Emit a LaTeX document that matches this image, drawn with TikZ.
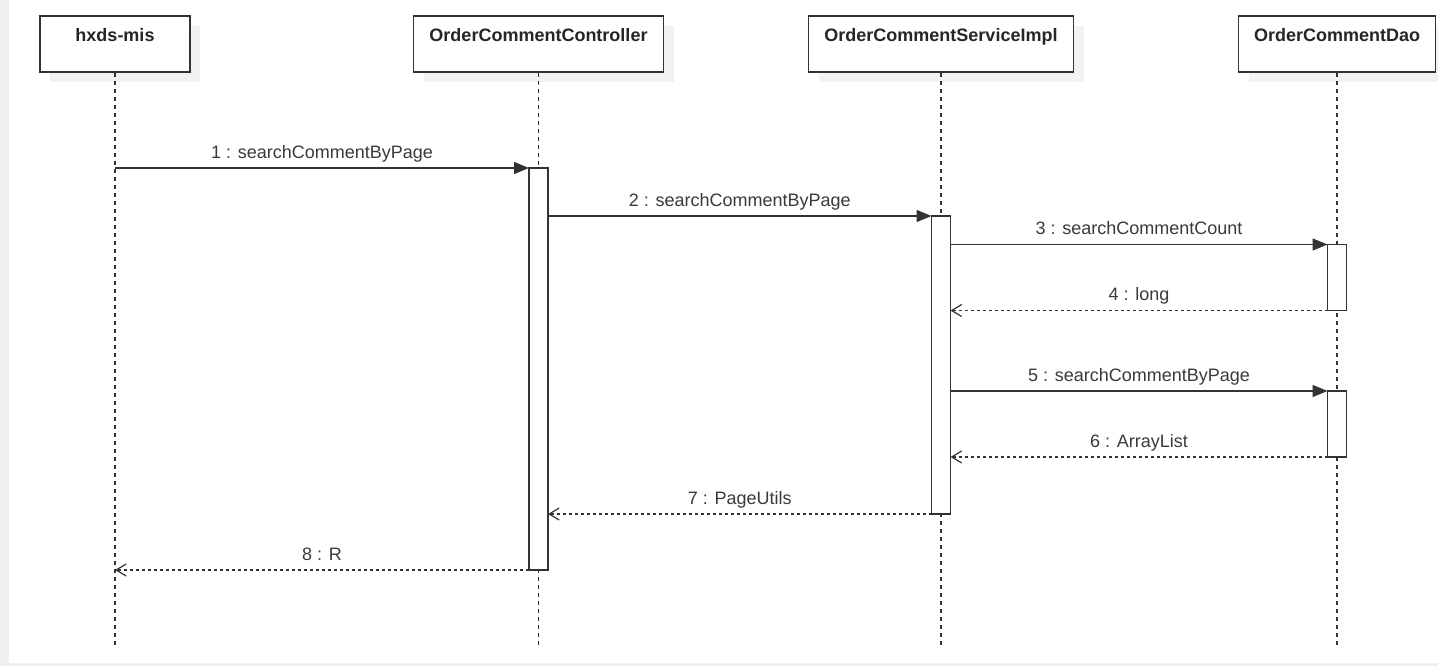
\documentclass[tikz,border=0pt]{standalone}
\usepackage{fontspec}
\setmainfont{Liberation Sans}
\usetikzlibrary{arrows.meta, shadows}
\definecolor{linegray}{HTML}{333333}
\definecolor{textgray}{HTML}{3A3A3A}
\definecolor{pagegray}{HTML}{F0F0F0}
\tikzset{actor/.style={draw=linegray, line width=1.4pt, fill=white, minimum height=56pt, inner sep=0pt, text height=13pt, text depth=17.6pt, font=\fontsize{18}{21}\selectfont\bfseries, text=black!85, drop shadow={shadow xshift=10pt, shadow yshift=-10pt, fill=black!5, opacity=1}},
	lifeline/.style={draw=linegray, line width=1.2pt, dash pattern=on 4pt off 4pt},
	act/.style={draw=linegray, line width=1.4pt, fill=white, minimum width=19pt, inner sep=0pt, outer sep=0pt, anchor=north},
	call/.style={draw=linegray, line width=1.4pt, -{Triangle[length=15pt,width=12pt]}},
	reply/.style={draw=linegray, line width=1.2pt, dash pattern=on 3pt off 3pt, -{Straight Barb[length=10pt,width=12pt]}},
	msg/.style={anchor=base, yshift=10pt, inner sep=0pt, text=textgray, font=\fontsize{18}{21}\selectfont}}

\begin{document}
\begin{tikzpicture}[x=1pt, y=-1pt]
	\useasboundingbox (0,0) rectangle (1438,666);
	\fill[pagegray] (0,0) rectangle (1438,666);
	\fill[white] (9,0) rectangle (1438,663);
	\node[actor, minimum width=150pt] (mis) at (115,44) {hxds-mis};
	\node[actor, minimum width=250pt] (ctrl) at (538.5,44) {OrderCommentController};
	\node[actor, minimum width=265pt] (svc) at (941,44) {OrderCommentServiceImpl};
	\node[actor, minimum width=197pt] (dao) at (1337,44) {OrderCommentDao};
	\coordinate (end) at (0,645);
	\foreach \n in {mis, ctrl, svc, dao}
		\draw[lifeline] (\n.south) -- (\n.south |- end);
	\node[act, minimum height=402pt] (ctrlact) at (538.5,168) {};
	\node[act, minimum height=298pt] (svcact) at (941,216) {};
	\node[act, minimum height=66pt] (daoact1) at (1337,244.5) {};
	\node[act, minimum height=66pt] (daoact2) at (1337,391) {};
	\path
		(mis |- ctrlact.north) edge[call] node[msg] {1 : searchCommentByPage} (ctrlact.north west)
		(ctrlact.east |- svcact.north) edge[call] node[msg] {2 : searchCommentByPage} (svcact.north west)
		(svcact.east |- daoact1.north) edge[call] node[msg] {3 : searchCommentCount} (daoact1.north west)
		(daoact1.south west) edge[reply] node[msg] {4 : long} (daoact1.south west -| svcact.east)
		(svcact.east |- daoact2.north) edge[call] node[msg] {5 : searchCommentByPage} (daoact2.north west)
		(daoact2.south west) edge[reply] node[msg] {6 : ArrayList} (daoact2.south west -| svcact.east)
		(svcact.south west) edge[reply] node[msg] {7 : PageUtils} (svcact.south west -| ctrlact.east)
		(ctrlact.south west) edge[reply] node[msg] {8 : R} (ctrlact.south west -| mis)
		;
\end{tikzpicture}
\end{document}
